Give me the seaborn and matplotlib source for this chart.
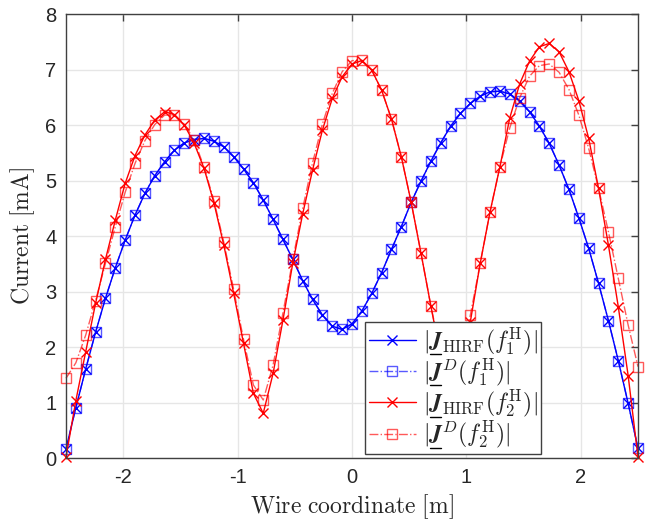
import numpy as np
import pandas as pd
import matplotlib
matplotlib.use("Agg")
import matplotlib.pyplot as plt
import seaborn as sns
from matplotlib.mathtext import MathTextParser
from matplotlib.textpath import TextToPath
from matplotlib.lines import Line2D

# ---- data -------------------------------------------------------------
x_coord = np.linspace(-2.5, 2.5, 59)

blue_hirf = [0.17, 0.91, 1.61, 2.27, 2.88, 3.43, 3.93, 4.38, 4.77, 5.09,
             5.34, 5.55, 5.68, 5.74, 5.76, 5.71, 5.61, 5.43, 5.21, 4.96,
             4.65, 4.30, 3.94, 3.58, 3.20, 2.86, 2.58, 2.38, 2.32, 2.42,
             2.65, 2.97, 3.34, 3.76, 4.17, 4.61, 4.99, 5.35, 5.68, 5.98,
             6.21, 6.39, 6.52, 6.60, 6.61, 6.56, 6.43, 6.24, 5.98, 5.67,
             5.28, 4.84, 4.33, 3.78, 3.15, 2.48, 1.76, 0.99, 0.18]
blue_d = [0.17, 0.91, 1.61, 2.27, 2.88, 3.43, 3.93, 4.38, 4.77, 5.09,
          5.34, 5.55, 5.68, 5.74, 5.76, 5.71, 5.61, 5.43, 5.21, 4.96,
          4.65, 4.30, 3.94, 3.58, 3.20, 2.86, 2.58, 2.38, 2.32, 2.42,
          2.65, 2.97, 3.34, 3.76, 4.17, 4.61, 4.99, 5.35, 5.68, 5.98,
          6.21, 6.39, 6.52, 6.60, 6.61, 6.56, 6.43, 6.24, 5.98, 5.67,
          5.28, 4.84, 4.33, 3.78, 3.15, 2.48, 1.76, 0.99, 0.18]
red_hirf = [0.02, 1.04, 1.92, 2.79, 3.58, 4.29, 4.95, 5.45, 5.82, 6.09,
            6.24, 6.19, 6.00, 5.67, 5.22, 4.60, 3.84, 2.97, 2.07, 1.17,
            0.81, 1.53, 2.49, 3.52, 4.40, 5.19, 5.91, 6.48, 6.87, 7.10,
            7.16, 6.99, 6.63, 6.11, 5.43, 4.61, 3.69, 2.74, 1.82, 0.85,
            1.45, 2.46, 3.51, 4.44, 5.25, 6.13, 6.74, 7.15, 7.41, 7.47,
            7.32, 6.96, 6.44, 5.76, 4.86, 3.84, 2.73, 1.49, 0.02]
red_d = [1.44, 1.72, 2.22, 2.84, 3.51, 4.17, 4.79, 5.31, 5.72, 6.01,
         6.18, 6.18, 6.02, 5.73, 5.24, 4.64, 3.89, 3.04, 2.14, 1.32,
         1.05, 1.68, 2.62, 3.58, 4.50, 5.32, 6.02, 6.57, 6.96, 7.16,
         7.17, 6.99, 6.63, 6.11, 5.43, 4.61, 3.69, 2.74, 1.90, 1.05,
         1.60, 2.58, 3.51, 4.44, 5.25, 5.95, 6.49, 6.88, 7.07, 7.10,
         6.95, 6.64, 6.18, 5.58, 4.86, 4.08, 3.24, 2.40, 1.65]

x_ticks = [-2, -1, 0, 1, 2]
x_tick_labels = ["-2", "-1", "0", "1", "2"]
y_ticks = [0, 1, 2, 3, 4, 5, 6, 7, 8]
y_tick_labels = ["0", "1", "2", "3", "4", "5", "6", "7", "8"]

# ---- style ------------------------------------------------------------
sns.set_style("white")
plt.rcParams["font.family"] = ["Liberation Sans", "DejaVu Sans"]
plt.rcParams["mathtext.fontset"] = "cm"


def ok_math(s):
    try:
        MathTextParser("agg").parse(s, dpi=100)
        return True
    except Exception:
        return False


bold = r"\mathbfit" if ok_math(r"$\mathbfit{J}$") else r"\mathbf"
JSYM = bold + "{J}"

labels = [
    r"$|" + JSYM + r"_{\mathrm{HIRF}}(f_1^{\mathrm{H}})|$",
    r"$|" + JSYM + r"^{D}(f_1^{\mathrm{H}})|$",
    r"$|" + JSYM + r"_{\mathrm{HIRF}}(f_2^{\mathrm{H}})|$",
    r"$|" + JSYM + r"^{D}(f_2^{\mathrm{H}})|$",
]

fig = plt.figure(figsize=(6.48, 5.25), dpi=100)
ax = fig.add_axes([66 / 648, 1 - 458.3 / 525, 572 / 648, 444.3 / 525])

series = [
    (blue_hirf, "#0000ff", "-", "x", 1.0, labels[0]),
    (blue_d, "#0000ff", "-.", "s", 0.65, labels[1]),
    (red_hirf, "#ff0000", "-", "x", 1.0, labels[2]),
    (red_d, "#ff0000", "-.", "s", 0.65, labels[3]),
]
for vals, col, ls, mk, al, lab in series:
    df = pd.DataFrame({"x": x_coord, "y": vals})
    sns.lineplot(data=df, x="x", y="y", ax=ax, color=col, linestyle=ls,
                 marker=mk, markersize=6.5,
                 markerfacecolor="none", markeredgecolor=col,
                 markeredgewidth=1.0, linewidth=1.0, alpha=al, label=lab,
                 clip_on=False)

ax.set_xlim(-2.5, 2.5)
ax.set_ylim(0, 8)
ax.set_xticks(x_ticks)
ax.set_xticklabels(x_tick_labels)
ax.set_yticks(y_ticks)
ax.set_yticklabels(y_tick_labels)
ax.grid(True, color="#e6e6e6", linewidth=1.0)
ax.set_axisbelow(True)
for sp in ax.spines.values():
    sp.set_color("#404040")
    sp.set_linewidth(1.0)
ax.tick_params(direction="in", length=5, width=1.0, color="#404040",
               top=True, right=True, labelsize=14.5, labelcolor="#262626",
               pad=7)

ax.set_xlabel(r"$\mathrm{Wire\ coordinate\ [m]}$", fontsize=17,
              color="#262626", labelpad=4)
ax.set_ylabel(r"$\mathrm{Current\ [mA]}$", fontsize=17,
              color="#262626", labelpad=6)

LEG_FS = 17
leg = ax.legend(loc="lower left", bbox_to_anchor=(0.523, 0.0097),
                fontsize=LEG_FS, numpoints=1, handlelength=2.0,
                handletextpad=0.3, borderpad=0.15, labelspacing=0.0,
                fancybox=False, framealpha=1.0, edgecolor="#404040",
                borderaxespad=0.0)
leg.get_frame().set_linewidth(1.0)
leg.set_zorder(10)

# ---- underline the bold J in each legend entry ------------------------
try:
    fig.canvas.draw()
    renderer = fig.canvas.get_renderer()
    t2p = TextToPath()
    scale = fig.dpi / 72.0
    for txt in leg.get_texts():
        prop = txt.get_fontproperties()
        s = txt.get_text()
        w_bar, _, _ = t2p.get_text_width_height_descent(r"$|$", prop, ismath=True)
        w_barj, _, _ = t2p.get_text_width_height_descent(r"$|" + JSYM + "$", prop, ismath=True)
        _, _, d_full = t2p.get_text_width_height_descent(s, prop, ismath=True)
        bb = txt.get_window_extent(renderer)
        base = bb.y0 + d_full * scale
        x0 = bb.x0 + w_bar * scale + 0.5
        x1 = bb.x0 + w_barj * scale - 0.5
        y = base - 3.5
        fx0, fy = fig.transFigure.inverted().transform((x0, y))
        fx1, _ = fig.transFigure.inverted().transform((x1, y))
        fig.add_artist(Line2D([fx0, fx1], [fy, fy], color="black",
                              linewidth=1.0, transform=fig.transFigure,
                              zorder=20))
except Exception:
    pass

fig.savefig("out.png", dpi=100)
